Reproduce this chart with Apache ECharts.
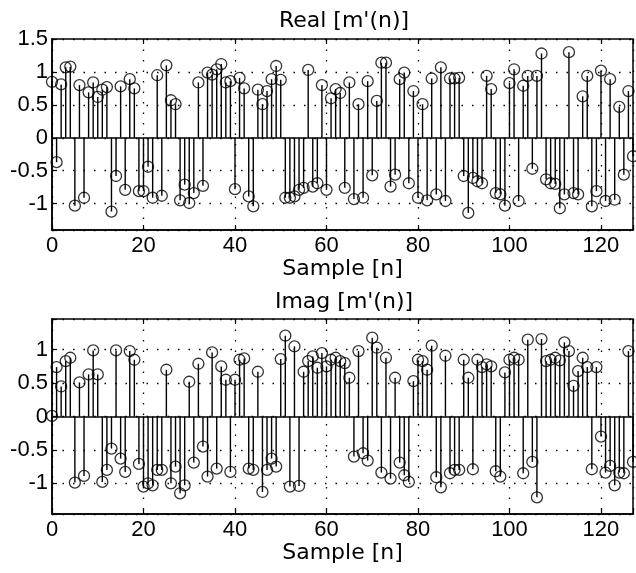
<!DOCTYPE html>
<html><head><meta charset="utf-8">
<script src="https://cdn.jsdelivr.net/npm/echarts@6/dist/echarts.min.js"></script>
<style>html,body{margin:0;padding:0;background:#fff}#c{width:636px;height:573px}</style>
</head><body><div id="c"></div>
<script>
// Real part of m'(n), samples n = 0..127
const realVals = [
  0.85,-0.37,0.81,1.07,1.08,-1.03,0.80,-0.91,0.69,0.84,
  0.62,0.73,0.77,-1.12,-0.58,0.78,-0.79,0.89,0.75,-0.81,
  -0.81,-0.44,-0.91,0.95,-0.88,1.10,0.57,0.51,-0.95,-0.71,
  -0.99,-0.84,0.84,-0.73,0.99,0.96,1.04,1.12,0.84,0.86,
  -0.78,0.91,0.75,-0.89,-1.04,0.73,0.51,0.71,0.89,1.09,
  0.88,-0.91,-0.91,-0.89,-0.79,-0.76,1.03,-0.74,-0.69,0.80,
  -0.79,0.60,0.74,0.68,-0.76,0.84,-0.93,0.51,-0.91,0.86,
  -0.57,0.56,1.14,1.14,-0.74,-0.56,0.89,0.99,-0.69,0.71,
  -0.91,0.51,-0.95,0.90,-0.86,1.07,-0.96,0.90,0.90,0.91,
  -0.58,-1.14,-0.61,-0.66,-0.69,0.94,0.74,-0.84,-0.86,-1.03,
  0.83,1.04,-0.96,0.79,0.94,-0.47,0.94,1.28,-0.63,-0.69,
  -0.70,-1.07,-0.86,1.30,-0.84,-0.86,0.63,0.94,-1.04,-0.81,
  1.02,-0.96,0.89,-0.94,0.47,-0.56,0.71,-0.28
];
// Imaginary part of m'(n), samples n = 0..127
const imagVals = [
  0.01,0.74,0.45,0.83,0.88,-0.99,0.51,-0.89,0.63,0.99,
  0.63,-0.98,-0.80,-0.48,0.99,-0.63,-0.83,0.98,0.85,-0.71,
  -1.05,-1.00,-1.03,-0.80,-0.80,0.70,-1.00,-0.75,-1.15,-1.03,
  0.52,-0.69,0.79,-0.45,-0.90,0.96,-0.78,0.75,0.55,-0.83,
  0.55,0.85,0.87,-0.78,-0.80,0.67,-1.13,-0.80,-0.63,-0.75,
  0.86,1.21,-1.05,1.05,-1.04,0.67,0.83,0.90,0.73,0.95,
  0.75,0.85,0.88,0.83,0.80,0.58,-0.60,0.98,-0.55,-0.66,
  1.18,1.03,-0.84,0.88,-0.93,0.58,-0.69,-0.88,-0.98,0.53,
  0.85,0.83,0.70,1.06,-0.91,-1.06,0.91,-0.85,-0.80,-0.80,
  0.85,0.58,-0.79,0.85,0.74,0.78,0.75,-0.82,-0.90,0.66,
  0.85,0.88,0.85,-0.85,1.15,-0.68,-1.21,1.16,0.83,0.85,
  0.88,0.84,1.11,0.98,0.46,0.68,0.88,0.74,-0.79,0.74,
  -0.30,-0.84,-0.74,-1.03,-0.84,-0.85,0.98,-0.68
];
const xTicks = [0, 20, 40, 60, 80, 100, 120];
const yTicksTop = [-1, -0.5, 0, 0.5, 1, 1.5];
const yTicksBottom = [-1, -0.5, 0, 0.5, 1];
const titles = ["Real [m'(n)]", "Imag [m'(n)]"];
const xName = "Sample [n]";

const FONT = 'DejaVu Sans';
const TICKFONT = 'Liberation Sans';
const chart = echarts.init(document.getElementById('c'), null, {renderer: 'canvas'});

function pairs(vals) { return vals.map((v, i) => [i, v]); }

function stemRender(params, api) {
  const x = api.value(0), y = api.value(1);
  const p0 = api.coord([x, 0]);
  const p1 = api.coord([x, y]);
  return {
    type: 'line',
    shape: {x1: p0[0], y1: p0[1], x2: p1[0], y2: p1[1]},
    style: {stroke: '#000', lineWidth: 1.4}
  };
}

function mainX(gi) {
  return {
    gridIndex: gi, type: 'value', min: 0, max: 127, interval: 20, position: 'bottom',
    axisLine: {show: true, onZero: false, lineStyle: {color: '#000', width: 1.5}},
    axisTick: {show: true, inside: true, length: 5, lineStyle: {color: '#000', width: 1.2}},
    axisLabel: {color: '#000', fontFamily: TICKFONT, fontSize: 22, margin: 5,
      formatter: v => xTicks.includes(v) ? String(v) : ''},
    splitLine: {show: true, lineStyle: {color: '#000', type: [1.5, 9], width: 1.3}},
    name: xName, nameLocation: 'middle', nameGap: 27,
    nameTextStyle: {color: '#000', fontFamily: FONT, fontSize: 22}
  };
}
function topX(gi) {
  return {
    gridIndex: gi, type: 'value', min: 0, max: 127, interval: 20, position: 'top',
    axisLine: {show: false, onZero: false},
    axisTick: {show: true, inside: true, length: 5, lineStyle: {color: '#000', width: 1.2}},
    axisLabel: {show: false}, splitLine: {show: false}
  };
}
function mainY(gi, mn, mx, ticks) {
  return {
    gridIndex: gi, type: 'value', min: mn, max: mx, position: 'left',
    axisLine: {show: true, onZero: false, lineStyle: {color: '#000', width: 1.5}},
    axisTick: {show: true, inside: true, length: 5, lineStyle: {color: '#000', width: 1.2}},
    axisLabel: {color: '#000', fontFamily: TICKFONT, fontSize: 22, margin: 4,
      formatter: v => ticks.includes(v) ? String(v) : ''},
    splitLine: {show: true, lineStyle: {color: '#000', type: [1.5, 9], width: 1.3}}
  };
}

function seriesFor(vals, xi, yi) {
  return [
    {type: 'custom', xAxisIndex: xi, yAxisIndex: yi, data: pairs(vals),
     renderItem: stemRender, silent: true, z: 3},
    {type: 'scatter', xAxisIndex: xi, yAxisIndex: yi, data: pairs(vals),
     symbol: 'circle', symbolSize: 11, silent: true, z: 4,
     itemStyle: {color: 'rgba(0,0,0,0)', borderColor: '#000', borderWidth: 1.3},
     markLine: {silent: true, symbol: ['none', 'none'], label: {show: false},
       lineStyle: {color: '#000', type: 'solid', width: 1.5}, data: [{yAxis: 0}], animation: false}}
  ];
}

chart.setOption({
  animation: false,
  backgroundColor: '#fff',
  grid: [
    {left: 52, top: 39, width: 584, height: 191, show: true, borderColor: '#000', borderWidth: 1.5, containLabel: false},
    {left: 52, top: 319, width: 584, height: 195, show: true, borderColor: '#000', borderWidth: 1.5, containLabel: false}
  ],
  xAxis: [mainX(0), mainX(1), topX(0), topX(1)],
  yAxis: [mainY(0, -1.4, 1.5, yTicksTop), mainY(1, -1.46, 1.46, yTicksBottom)],
  graphic: [
    {type: 'text', x: 344, y: 21, style: {text: titles[0], fill: '#000', fontFamily: FONT, fontSize: 22, align: 'center', verticalAlign: 'middle'}},
    {type: 'text', x: 344, y: 302, style: {text: titles[1], fill: '#000', fontFamily: FONT, fontSize: 22, align: 'center', verticalAlign: 'middle'}}
  ],
  series: [].concat(seriesFor(realVals, 0, 0), seriesFor(imagVals, 1, 1))
});
</script></body></html>
